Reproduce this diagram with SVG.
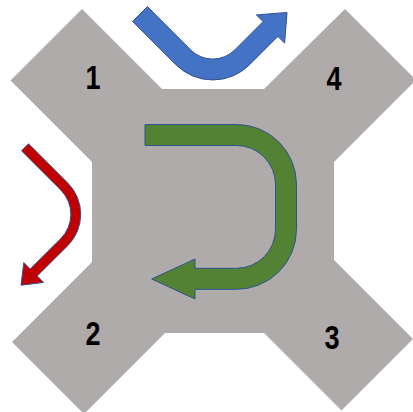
<svg xmlns="http://www.w3.org/2000/svg" width="413" height="412" viewBox="0 0 413 412">
<style>
.road{fill:#AFABAB;stroke:none}
.lbl{font-family:"Liberation Sans",Arial,sans-serif;font-weight:bold;font-size:33px;fill:#000;text-anchor:middle}
.arr{stroke:#2F528F;stroke-width:1;stroke-linejoin:miter}
</style>
<rect width="413" height="412" fill="#fff"/>
<g id="junction">
<polygon class="road" points="82,9 162,89 264,89 345,9 416,80 334,162 334,260 413,339 341.5,410.5 264,333 165,333 84,414 12,342 92,262 92,162 10.5,80.5"/>
</g>
<g id="arm1"><text class="lbl" transform="translate(93,89) scale(0.82,1)">1</text></g>
<g id="arm2"><text class="lbl" transform="translate(93,345) scale(0.82,1)">2</text></g>
<g id="arm3"><text class="lbl" transform="translate(332,349) scale(0.82,1)">3</text></g>
<g id="arm4"><text class="lbl" transform="translate(334,90) scale(0.82,1)">4</text></g>
<g id="connectors">
<path class="arr" fill="#4472C4" d="M147.4,6.6 L132.6,21.4 L175.9,64.7 A52.1,52.1 0 0 0 249.6,64.7 L277.9,36.4 L284.6,43.1 L287,12.5 L256.4,14.9 L263.1,21.6 L234.8,49.9 A31.1,31.1 0 0 1 190.7,49.9 Z"/>
<path class="arr" fill="#C00000" d="M28.5,143.8 L67.7,182.9 A44.4,44.4 0 0 1 67.7,245.7 L37.2,276 L43.6,282.4 L21,285.2 L23.8,262.6 L30.2,269 L60.7,238.7 A34.4,34.4 0 0 0 60.7,189.9 L21.5,150.8 Z"/>
<path class="arr" fill="#548235" d="M145,124.5 L236.5,124.5 A60,60 0 0 1 296.5,184.5 L296.5,229.3 A60,60 0 0 1 236.5,289.3 L195,289.3 L195,299 L151.7,279 L195,259 L195,268.3 L236.5,268.3 A39,39 0 0 0 275.5,229.3 L275.5,184.5 A39,39 0 0 0 236.5,145.5 L145,145.5 Z"/>
</g>
</svg>
